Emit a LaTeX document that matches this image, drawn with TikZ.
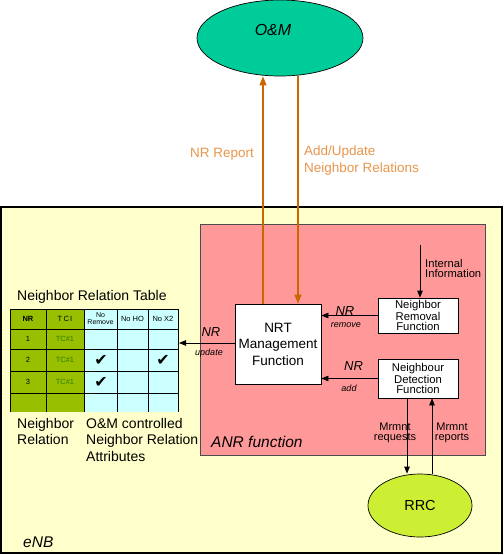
\documentclass[tikz,border=0pt]{standalone}
\usepackage{fontspec}
\setmainfont{Liberation Sans}
\newfontfamily\symfont{DejaVu Sans}
\usetikzlibrary{arrows.meta,shapes.geometric}
\definecolor{enbfill}{HTML}{FFFFCC}
\definecolor{anrfill}{HTML}{FF9999}
\definecolor{omfill}{HTML}{00CC99}
\definecolor{rrcfill}{HTML}{CCEE33}
\definecolor{orangeline}{HTML}{CC6600}
\definecolor{orangetext}{HTML}{E8964E}
\definecolor{tgreen}{HTML}{99C000}
\definecolor{tcyan}{HTML}{CCFFFF}
\definecolor{tctext}{HTML}{2E7D00}
\newcommand\myfs[2]{\fontsize{#1}{#2}\selectfont}
\begin{document}
\begin{tikzpicture}[x=1pt,y=-1pt,
  fbox/.style={draw=black, fill=white, line width=0.8pt, inner sep=0pt, align=center},
  arr/.style={-{Triangle[length=7pt,width=5.5pt]}, line width=0.8pt},
  oarr/.style={-{Triangle[length=9pt,width=7pt]}, line width=1.3pt, draw=orangeline},
  lbl/.style={inner sep=0pt, align=left},
  cell/.style={inner sep=0pt, align=center, font=\myfs{7.5}{8}},
  chk/.style={inner sep=0pt, font=\symfont\myfs{16}{16}},
  gridline/.style={draw=black, line width=0.6pt}]
\useasboundingbox[fill=white] (0,0) rectangle (504,555);
% eNB and ANR areas
\node[draw=black, fill=enbfill, line width=1.4pt, minimum width=501pt, minimum height=346pt, inner sep=0pt] (enb) at (251.5,380) {};
\node[draw=black!70, fill=anrfill, line width=0.7pt, minimum width=285pt, minimum height=231pt, inner sep=0pt] (anr) at (342.5,339.5) {};
\node[lbl, anchor=west, font=\itshape\myfs{15.5}{15.5}] (enblbl) at (23,542) {eNB};
\node[lbl, anchor=west, font=\itshape\myfs{15.5}{15.5}] (anrlbl) at (211,442) {ANR function};
% O&M and RRC
\node[draw=black, fill=omfill, ellipse, minimum width=166pt, minimum height=76pt, inner sep=0pt, line width=0.7pt] (om) at (280,38) {};
\node[lbl, font=\itshape\myfs{16}{16}] (omlbl) at (273,30) {O\&M};
\node[draw=black, fill=rrcfill, ellipse, minimum width=104pt, minimum height=63pt, inner sep=0pt, line width=0.7pt, font=\myfs{14.5}{14.5}] (rrc) at (420,505.5) {RRC};
% function boxes
\node[fbox, minimum width=86pt, minimum height=80pt, font=\myfs{13.5}{16.5}] (nrt) at (278,344) {NRT\\Management\\Function};
\node[fbox, minimum width=80pt, minimum height=35pt, font=\myfs{11.3}{10}] (rem) at (418,315.5) {Neighbor\\Removal\\Function};
\node[fbox, minimum width=80pt, minimum height=39pt, font=\myfs{11.3}{10.5}] (det) at (418,378.5) {Neighbour\\Detection\\Function};
% table
\fill[tgreen] (10,309) rectangle (84,412);
\fill[tcyan] (84,309) rectangle (178,412);
\foreach \x in {10,46,84,117,148,178} \draw[gridline] (\x,309) -- (\x,412);
\foreach \y in {309,329,349,371,393} \draw[gridline] (10,\y) -- (178,\y);
\node[cell, font=\bfseries\myfs{7.5}{8}] (hnr) at (28,319) {NR};
\node[cell] (htci) at (65,319) {T\,C\,I};
\node[cell, font=\myfs{7}{7}] (hrem) at (100.5,319) {No\\Remove};
\node[cell] (hho) at (132.5,319) {No HO};
\node[cell] (hx2) at (163,319) {No X2};
\node[cell] (r1) at (28,339) {1};
\node[cell] (r2) at (28,360) {2};
\node[cell] (r3) at (28,382) {3};
\node[cell, text=tctext] (t1) at (65,339) {TC\#1};
\node[cell, text=tctext] (t2) at (65,360) {TC\#1};
\node[cell, text=tctext] (t3) at (65,382) {TC\#1};
\node[chk] (c1) at (101,360) {✔};
\node[chk] (c2) at (163,360) {✔};
\node[chk] (c3) at (101,382) {✔};
\node[lbl, anchor=west, font=\myfs{14}{14}] (tbltitle) at (17,297) {Neighbor Relation Table};
\node[lbl, anchor=north west, font=\myfs{14}{16.5}] (nrlbl) at (17,418) {Neighbor\\Relation};
\node[lbl, anchor=north west, font=\myfs{14}{16.5}] (attrlbl) at (86,418) {O\&M controlled\\Neighbor Relation\\Attributes};
% orange connectors
\draw[oarr] (nrt.north -| 263,0) -- (om.south -| 263,0);
\draw[oarr] (om.south -| 298,0) -- (nrt.north -| 298,0);
\node[lbl, anchor=east, text=orangetext, font=\myfs{13.5}{16}] (nrrep) at (254,154) {NR Report};
\node[lbl, anchor=north west, text=orangetext, font=\myfs{13.5}{16.5}] (addupd) at (304,146) {Add/Update\\Neighbor Relations};
% internal information
\coordinate (intl) at (420,245);
\draw[arr] (intl) -- (intl |- rem.north);
\node[lbl, anchor=west, font=\myfs{11.2}{10}] (intlbl) at (425,268) {Internal\\Information};
% NR arrows
\draw[arr] (rem.west) -- (rem.west -| nrt.east);
\node[lbl, font=\itshape\myfs{13}{13}] (nrr) at (345,311) {NR};
\node[lbl, font=\itshape\myfs{9}{9}] (nrrsub) at (346,325) {remove};
\draw[arr] (det.west) -- (det.west -| nrt.east);
\node[lbl, font=\itshape\myfs{13}{13}] (nra) at (353.5,366) {NR};
\node[lbl, font=\itshape\myfs{9}{9}] (nrasub) at (349,388) {add};
\coordinate (tblr) at (179,343);
\draw[arr] (nrt.west |- tblr) -- (tblr);
\node[lbl, font=\itshape\myfs{13}{13}] (nru) at (211,332) {NR};
\node[lbl, font=\itshape\myfs{9}{9}] (nrusub) at (209,353) {update};
% measurement arrows
\node[lbl, align=center, font=\myfs{11}{10}] (mreq) at (395,433) {Mrmnt\\requests};
\node[lbl, align=center, font=\myfs{11}{10}] (mrep) at (452,433) {Mrmnt\\reports};
\draw[arr] (det.south -| 407,0) -- (rrc.north -| 407,0);
\draw[arr] (rrc.north -| 432,0) -- (det.south -| 432,0);
\end{tikzpicture}
\end{document}
